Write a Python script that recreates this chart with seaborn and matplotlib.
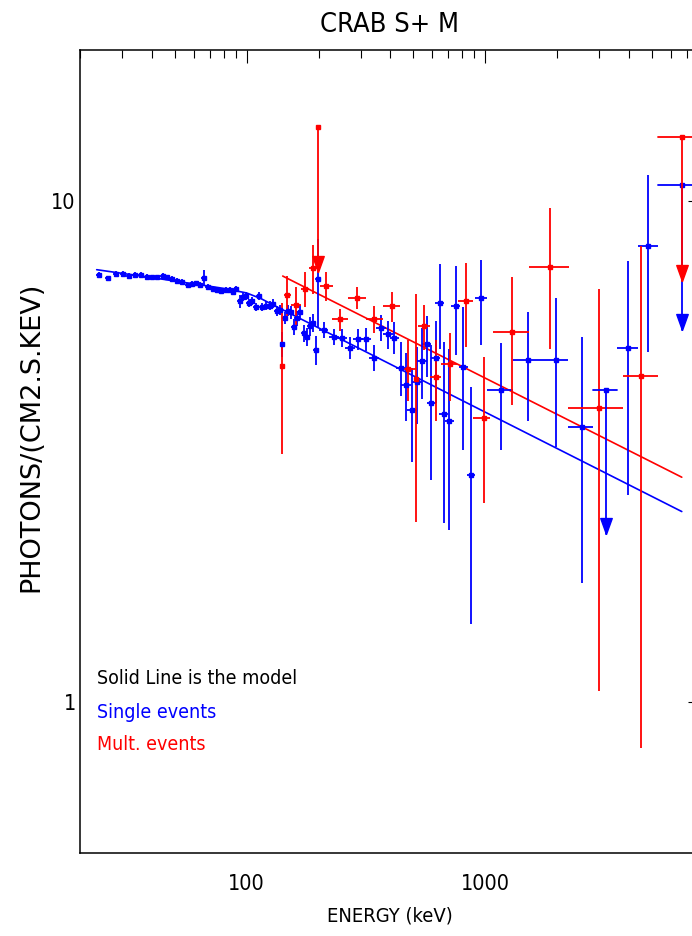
import matplotlib
matplotlib.use("Agg")
import matplotlib.pyplot as plt
from matplotlib import font_manager
from matplotlib.ticker import FixedLocator, NullFormatter, FixedFormatter, LogLocator
import numpy as np
import pandas as pd
import seaborn as sns

# ---------------- single events (blue), narrow bins ----------------
single_energy = [24.14, 26.15, 28.37, 30.24, 32.05, 34.08, 36.12, 38.28, 40.18, 42.16,
                 44.50, 46.44, 48.73, 51.15, 53.69, 56.67, 58.88, 61.45, 63.43, 66.13,
                 68.74, 72.14, 74.97, 78.24, 81.57, 84.77, 87.53, 90.45, 93.37, 96.40,
                 98.95, 102.1, 105.6, 109.0, 112.5, 116.3, 120.9, 124.8, 128.5, 133.5,
                 138.1, 140.5, 144.2, 149.2, 153.9, 157.8, 162.0, 167.9, 173.6, 178.9,
                 184.9, 189.6, 196.0, 199.8, 210.9, 232.1, 251.9, 271.1, 292.8, 315.5,
                 341.5, 365.8, 390.9, 416.3, 442.3, 465.6, 492.0, 517.8, 543.5, 568.7,
                 594.0, 620.4, 644.9, 672.2, 706.8, 752.6, 810.5, 874.3]
single_flux = [7.13, 7.01, 7.15, 7.15, 7.09, 7.12, 7.12, 7.06, 7.04, 7.04,
               7.09, 7.04, 6.99, 6.93, 6.90, 6.78, 6.83, 6.85, 6.81, 7.02,
               6.73, 6.67, 6.64, 6.62, 6.64, 6.64, 6.59, 6.67, 6.30, 6.42,
               6.45, 6.25, 6.32, 6.14, 6.45, 6.14, 6.18, 6.18, 6.24, 6.02,
               6.05, 5.18, 5.83, 6.04, 5.99, 5.60, 5.84, 5.99, 5.44, 5.35,
               5.62, 5.71, 5.04, 6.99, 5.53, 5.35, 5.33, 5.09, 5.30, 5.30,
               4.87, 5.58, 5.42, 5.33, 4.65, 4.30, 3.83, 4.35, 4.80, 5.17,
               3.96, 4.86, 6.27, 3.75, 3.63, 6.18, 4.67, 2.84]
single_err = [0.08, 0.08, 0.08, 0.08, 0.08, 0.08, 0.08, 0.08, 0.08, 0.08,
              0.08, 0.08, 0.08, 0.08, 0.08, 0.08, 0.08, 0.08, 0.08, 0.26,
              0.09, 0.09, 0.09, 0.09, 0.09, 0.09, 0.09, 0.09, 0.18, 0.12,
              0.12, 0.12, 0.12, 0.12, 0.12, 0.12, 0.12, 0.12, 0.12, 0.14,
              0.14, 0.30, 0.16, 0.16, 0.18, 0.20, 0.20, 0.20, 0.22, 0.22,
              0.24, 0.24, 0.34, 1.40, 0.20, 0.20, 0.22, 0.25, 0.25, 0.28,
              0.29, 0.33, 0.35, 0.39, 0.57, 0.67, 0.81, 0.76, 0.77, 0.72,
              1.19, 0.90, 1.20, 1.47, 1.43, 1.25, 1.48, 1.41]
single_de = [0.7, 0.75, 0.8, 0.85, 0.9, 0.95, 1.0, 1.1, 1.1, 1.2,
             1.3, 1.3, 1.4, 1.5, 1.5, 1.6, 1.7, 1.8, 1.8, 1.9,
             2.0, 2.1, 2.1, 2.2, 2.3, 2.4, 2.5, 2.6, 2.7, 2.8,
             2.8, 2.9, 3.0, 3.1, 3.2, 3.3, 3.5, 3.6, 3.7, 3.8,
             4.0, 2.0, 4.1, 4.3, 4.4, 4.5, 4.6, 4.8, 5.0, 5.1,
             5.3, 5.4, 5.6, 5.7, 9.0, 11.0, 12.0, 13.0, 14.0, 15.0,
             16.0, 17.0, 18.0, 19.0, 20.0, 21.0, 22.0, 23.0, 24.0, 25.0,
             26.0, 27.0, 28.0, 29.0, 30.0, 32.0, 34.0, 36.0]

# ---------------- single events (blue), wide bins ----------------
single_wide_energy = [961.2, 1163, 1517, 1979, 2536, 3956, 4827]
single_wide_flux = [6.39, 4.19, 4.81, 4.81, 3.54, 5.09, 8.12]
single_wide_err = [1.23, 1.01, 1.18, 1.58, 1.81, 2.50, 3.13]
single_wide_lo = [904, 1013, 1310, 1736, 2233, 3556, 4357]
single_wide_hi = [1019, 1310, 1736, 2233, 2837, 4357, 5284]

# single events, upper limits
single_ul_energy = [3198, 6705]
single_ul_flux = [4.20, 10.74]
single_ul_lo = [2837, 5284]
single_ul_hi = [3556, 8500]

# ---------------- multiple events (red) ----------------
mult_energy = [140.5, 147.7, 160.9, 175.0, 189.9, 215.8, 247.1, 290.0, 341.8, 406.8,
               474.8, 514.8, 554.2, 623.4, 710.4, 834.6, 986.5, 1299, 1876, 2997, 4511]
mult_flux = [4.69, 6.49, 6.20, 6.67, 7.33, 6.76, 5.80, 6.40, 5.81, 6.16,
             4.63, 4.41, 5.62, 4.46, 4.72, 6.31, 3.69, 5.48, 7.38, 3.86, 4.47]
mult_err = [1.56, 0.60, 0.54, 0.54, 0.82, 0.46, 0.29, 0.32, 0.36, 0.43,
            0.64, 2.12, 0.58, 0.82, 0.73, 1.21, 1.19, 1.57, 2.32, 2.81, 3.66]
mult_lo = [139, 142.8, 153.9, 168.4, 181.9, 202.2, 228.8, 265.9, 315.5, 372.9,
           445.4, 507, 522.8, 589.4, 655.5, 769.6, 889.5, 1076, 1520, 2233, 3770]
mult_hi = [142, 153.9, 168.4, 182, 198.5, 230.1, 265.9, 317.6, 372.9, 441.1,
           514.8, 523, 589.4, 655.5, 762.2, 889.5, 1045, 1520, 2238, 3770, 5284]

# multiple events, upper limits
mult_ul_energy = [199.8, 6705]
mult_ul_flux = [14.03, 13.44]
mult_ul_lo = [197, 5284]
mult_ul_hi = [202.5, 8500]

# ---------------- fitted models ----------------
single_model_energy = [23.5, 40, 60, 80, 100, 115, 130, 6670]
single_model_flux = [7.29, 7.03, 6.83, 6.69, 6.55, 6.38, 6.19, 2.40]
mult_model_energy = [141.6, 6670]
mult_model_flux = [7.08, 2.81]

BLUE = "#0000ff"
RED = "#ff0000"

sns.set_theme(style="white")
names = {f.name for f in font_manager.fontManager.ttflist}
if "Liberation Sans Narrow" in names:
    narrow = dict(family="Liberation Sans Narrow")
else:
    narrow = dict(family="DejaVu Sans", stretch="condensed")
plt.rcParams["font.family"] = ["DejaVu Sans"]

W, H = 692, 936
fig = plt.figure(figsize=(W / 100, H / 100), dpi=100)
fig.patch.set_facecolor("white")
ax = fig.add_axes([80 / W, (H - 853) / H, 620.6 / W, 803 / H])
ax.set_facecolor("white")
ax.set_xscale("log")
ax.set_yscale("log")
ax.set_xlim(20, 8000)
ax.set_ylim(0.5, 20)

# model curves
sm = pd.DataFrame({"E": single_model_energy, "F": single_model_flux})
mm = pd.DataFrame({"E": mult_model_energy, "F": mult_model_flux})
sns.lineplot(data=sm, x="E", y="F", ax=ax, color=BLUE, lw=1.2, sort=True)
sns.lineplot(data=mm, x="E", y="F", ax=ax, color=RED, lw=1.2, sort=True)

def points(e, f, err, xlo, xhi, color):
    e = np.asarray(e, float)
    ax.errorbar(e, f, yerr=err, xerr=[e - np.asarray(xlo), np.asarray(xhi) - e],
                fmt="s", ms=3.2, color=color, mec=color, mfc=color,
                elinewidth=1.3, capsize=0, zorder=3)

se = np.asarray(single_energy)
sde = np.asarray(single_de)
points(se, single_flux, single_err, se - sde, se + sde, BLUE)
points(single_wide_energy, single_wide_flux, single_wide_err,
       single_wide_lo, single_wide_hi, BLUE)
points(mult_energy, mult_flux, mult_err, mult_lo, mult_hi, RED)

# upper limits: marker at the limit, line down to an arrow head
head = [(0, 0), (-0.36, 1.0), (0.36, 1.0), (0, 0)]
def limits(e, f, xlo, xhi, color):
    for ei, fi, lo, hi in zip(e, f, xlo, xhi):
        tip = fi * 0.515
        ax.plot([lo, hi], [fi, fi], color=color, lw=1.3, zorder=3)
        ax.plot([ei, ei], [fi, tip], color=color, lw=1.3, zorder=3)
        ax.plot([ei], [fi], "s", ms=3.2, color=color, zorder=3)
        ax.plot([ei], [tip], marker=head, ms=23, color=color, mec=color, zorder=4)

limits(single_ul_energy, single_ul_flux, single_ul_lo, single_ul_hi, BLUE)
limits(mult_ul_energy, mult_ul_flux, mult_ul_lo, mult_ul_hi, RED)

# axes styling
for s in ax.spines.values():
    s.set_color("black")
    s.set_linewidth(1.1)
ax.xaxis.set_major_locator(FixedLocator([100, 1000, 10000]))
ax.xaxis.set_major_formatter(FixedFormatter(["100", "1000", "10000"]))
ax.xaxis.set_minor_locator(LogLocator(base=10, subs=np.arange(2, 10)))
ax.xaxis.set_minor_formatter(NullFormatter())
ax.yaxis.set_major_locator(FixedLocator([1, 10]))
ax.yaxis.set_major_formatter(FixedFormatter(["1", "10"]))
ax.yaxis.set_minor_locator(LogLocator(base=10, subs=np.arange(2, 10)))
ax.yaxis.set_minor_formatter(NullFormatter())
ax.tick_params(which="both", direction="in", top=True, right=True,
               color="black", width=0.8)
ax.tick_params(which="major", length=9.5)
ax.tick_params(which="minor", length=5.5)
ax.tick_params(axis="x", which="major", pad=15)
ax.tick_params(axis="y", which="major", pad=3)
for lab in ax.get_xticklabels() + ax.get_yticklabels():
    lab.set_fontproperties(font_manager.FontProperties(size=15.5, **narrow))
    lab.set_color("black")
ax.set_xlabel("")
ax.set_ylabel("")

fig.text(390 / W, 1 - 25 / H, "CRAB S+ M", ha="center", va="center",
         fontsize=19.5, color="black", **narrow)
fig.text(390 / W, 1 - 916 / H, "ENERGY (keV)", ha="center", va="center",
         fontsize=14.5, color="black", **narrow)
fig.text(31 / W, 1 - 437 / H, "PHOTONS/(CM2.S.KEV)", ha="center", va="center",
         rotation=90, fontsize=19.5, color="black", family="DejaVu Sans")

fig.text(97 / W, 1 - 678 / H, "Solid Line is the model", ha="left", va="center",
         fontsize=14, color="black", **narrow)
fig.text(97 / W, 1 - 712 / H, "Single events", ha="left", va="center",
         fontsize=14, color=BLUE, **narrow)
fig.text(97 / W, 1 - 745 / H, "Mult. events", ha="left", va="center",
         fontsize=14, color=RED, **narrow)

fig.savefig("out.png", dpi=100, facecolor="white")
